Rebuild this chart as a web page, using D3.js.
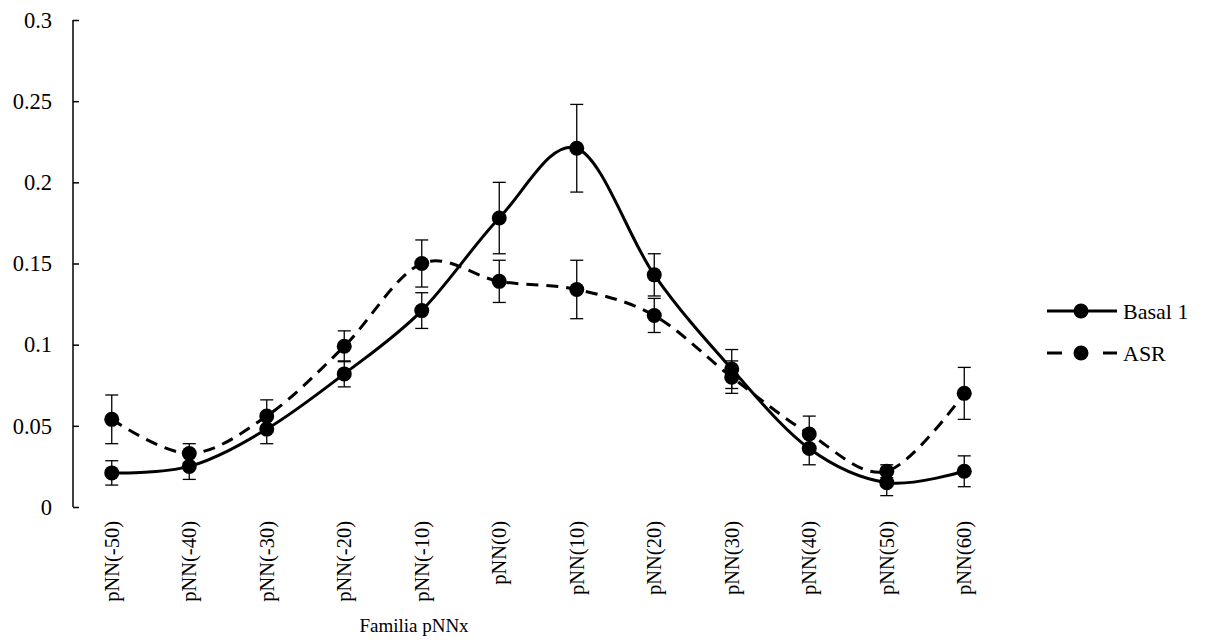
<!DOCTYPE html>
<html>
<head>
<meta charset="utf-8">
<script src="https://cdn.jsdelivr.net/npm/d3@7"></script>
<style>
  body { margin: 0; background: #fff; }
  svg text { font-family: "Liberation Serif" !important; }
</style>
</head>
<body>
<svg id="chart" width="1206" height="642" font-family="Liberation Serif"></svg>
<script>
var categories = ['pNN(-50)', 'pNN(-40)', 'pNN(-30)', 'pNN(-20)', 'pNN(-10)', 'pNN(0)',
                  'pNN(10)', 'pNN(20)', 'pNN(30)', 'pNN(40)', 'pNN(50)', 'pNN(60)'];
var basal = [0.021, 0.025, 0.048, 0.082, 0.121, 0.178, 0.221, 0.143, 0.085, 0.036, 0.015, 0.022];
var basalErr = [0.0075, 0.008, 0.009, 0.008, 0.011, 0.022, 0.027, 0.013, 0.012, 0.010, 0.008, 0.0095];
var asr = [0.054, 0.033, 0.056, 0.099, 0.150, 0.139, 0.134, 0.118, 0.080, 0.045, 0.022, 0.070];
var asrErr = [0.015, 0.006, 0.010, 0.0095, 0.0145, 0.013, 0.018, 0.0105, 0.010, 0.011, 0.004, 0.016];
var yTicks = [0, 0.05, 0.1, 0.15, 0.2, 0.25, 0.3];
var seriesNames = ['Basal 1', 'ASR'];

var svg = d3.select('#chart');

var x = d3.scaleBand().domain(categories).range([73, 1003]);
var y = d3.scaleLinear().domain([0, 0.3]).range([507, 20]);
var cx = function (d) { return x(d) + x.bandwidth() / 2; };

// y axis, ticks pointing inward
var yAxis = svg.append('g').attr('transform', 'translate(73,0)')
  .call(d3.axisRight(y).tickValues(yTicks).tickSize(6).tickFormat(d3.format('')))
  .attr('font-family', 'Liberation Serif').attr('font-size', null);
yAxis.select('.domain').attr('d', 'M0,' + y(0) + 'V' + y(0.3)).attr('stroke', '#000').attr('stroke-width', 1.5);
yAxis.selectAll('.tick line').attr('stroke', '#000').attr('stroke-width', 1.5);
yAxis.selectAll('.tick text')
  .attr('x', -21).attr('text-anchor', 'end').attr('fill', '#000')
  .attr('font-family', 'Liberation Serif')
  .attr('font-size', 22.5);

// x labels (no x axis line)
svg.append('g').selectAll('text')
  .data(categories)
  .enter()
  .append('text')
  .attr('transform', function (d) { return 'translate(' + cx(d) + ',521) rotate(-90)'; })
  .attr('text-anchor', 'end')
  .attr('dy', '0.35em')
  .attr('font-family', 'Liberation Serif')
  .attr('font-size', 20.5)
  .text(function (d) { return d; });

svg.append('text')
  .attr('x', 414).attr('y', 632)
  .attr('text-anchor', 'middle')
  .attr('font-family', 'Liberation Serif')
  .attr('font-size', 19)
  .text('Familia pNNx');

var series = [
  { name: seriesNames[0], values: basal, err: basalErr, dash: null },
  { name: seriesNames[1], values: asr, err: asrErr, dash: '12,8' }
];

// error bars
series.forEach(function (s) {
  var g = svg.append('g').attr('stroke', '#000').attr('stroke-width', 1.3);
  categories.forEach(function (c, i) {
    var lo = y(s.values[i] - s.err[i]);
    var hi = y(s.values[i] + s.err[i]);
    g.append('line').attr('x1', cx(c)).attr('x2', cx(c)).attr('y1', lo).attr('y2', hi);
    g.append('line').attr('x1', cx(c) - 6.5).attr('x2', cx(c) + 6.5).attr('y1', lo).attr('y2', lo);
    g.append('line').attr('x1', cx(c) - 6.5).attr('x2', cx(c) + 6.5).attr('y1', hi).attr('y2', hi);
  });
});

var line = d3.line()
  .x(function (d, i) { return cx(categories[i]); })
  .y(function (d) { return y(d); })
  .curve(d3.curveCatmullRom.alpha(0));

series.forEach(function (s) {
  svg.append('path')
    .datum(s.values)
    .attr('d', line)
    .attr('fill', 'none')
    .attr('stroke', '#000')
    .attr('stroke-width', 3)
    .attr('stroke-dasharray', s.dash);
  svg.append('g').selectAll('circle')
    .data(s.values)
    .enter()
    .append('circle')
    .attr('cx', function (d, i) { return cx(categories[i]); })
    .attr('cy', function (d) { return y(d); })
    .attr('r', 7.5)
    .attr('fill', '#000');
});

// legend
var legend = svg.append('g');
series.forEach(function (s, i) {
  var ly = 311 + i * 42;
  if (s.dash) {
    legend.append('line').attr('x1', 1047).attr('x2', 1062).attr('y1', ly).attr('y2', ly)
      .attr('stroke', '#000').attr('stroke-width', 3);
    legend.append('line').attr('x1', 1103).attr('x2', 1117).attr('y1', ly).attr('y2', ly)
      .attr('stroke', '#000').attr('stroke-width', 3);
  } else {
    legend.append('line').attr('x1', 1047).attr('x2', 1117).attr('y1', ly).attr('y2', ly)
      .attr('stroke', '#000').attr('stroke-width', 3);
  }
  legend.append('circle').attr('cx', 1081).attr('cy', ly).attr('r', 7.5).attr('fill', '#000');
  legend.append('text').attr('x', 1123).attr('y', ly).attr('dy', '0.35em')
    .attr('font-family', 'Liberation Serif')
    .attr('font-size', 22)
    .text(s.name);
});
</script>
</body>
</html>
